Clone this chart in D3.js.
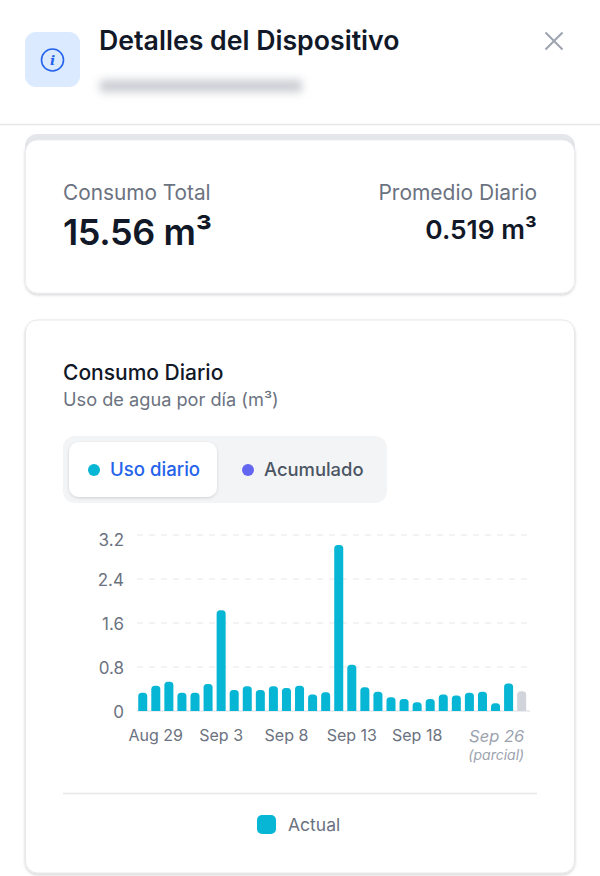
<!DOCTYPE html>
<html lang="es">
<head>
<meta charset="utf-8">
<script src="https://cdn.jsdelivr.net/npm/d3@7"></script>
<style>
  html, body { margin: 0; padding: 0; background: #fff; }
  svg { display: block; font-family: Inter, "Noto Sans", sans-serif; }
</style>
</head>
<body>
<svg id="chart" width="600" height="876"></svg>
<script>
// Data
const days = [
  "Aug 28", "Aug 29", "Aug 30", "Aug 31", "Sep 1", "Sep 2", "Sep 3", "Sep 4", "Sep 5", "Sep 6",
  "Sep 7", "Sep 8", "Sep 9", "Sep 10", "Sep 11", "Sep 12", "Sep 13", "Sep 14", "Sep 15", "Sep 16",
  "Sep 17", "Sep 18", "Sep 19", "Sep 20", "Sep 21", "Sep 22", "Sep 23", "Sep 24", "Sep 25", "Sep 26",
];
const dailyUse = [
  0.33, 0.46, 0.53, 0.33, 0.33, 0.49, 1.83, 0.38, 0.45, 0.38,
  0.45, 0.42, 0.46, 0.30, 0.34, 3.02, 0.84, 0.43, 0.35, 0.25,
  0.22, 0.16, 0.22, 0.30, 0.28, 0.33, 0.35, 0.14, 0.50, 0.36,
];
const yTicks = [0, 0.8, 1.6, 2.4, 3.2];
const xTicks = ["Aug 29", "Sep 3", "Sep 8", "Sep 13", "Sep 18"];
const partialDay = "Sep 26";

const CYAN = "#06b6d4";
const INK = "#111827";
const MUTED = "#6b7280";

const svg = d3.select("#chart");

// Shadow + blur filters
const defs = svg.append("defs");
const shadow = defs.append("filter").attr("id", "cardShadow")
  .attr("x", "-5%").attr("y", "-5%").attr("width", "110%").attr("height", "112%");
shadow.append("feDropShadow").attr("dx", 0).attr("dy", 1.5).attr("stdDeviation", 1.5)
  .attr("flood-color", "#000").attr("flood-opacity", 0.18);
const tabShadow = defs.append("filter").attr("id", "tabShadow")
  .attr("x", "-10%").attr("y", "-15%").attr("width", "120%").attr("height", "135%");
tabShadow.append("feDropShadow").attr("dx", 0).attr("dy", 1).attr("stdDeviation", 1.5)
  .attr("flood-color", "#000").attr("flood-opacity", 0.15);
defs.append("filter").attr("id", "blur")
  .attr("x", "-10%").attr("y", "-100%").attr("width", "120%").attr("height", "300%")
  .append("feGaussianBlur").attr("stdDeviation", 4.5);

function label(parent, x, y, text, size, color, weight, anchor) {
  return parent.append("text")
    .attr("x", x).attr("y", y)
    .attr("font-size", size)
    .attr("font-weight", weight || 400)
    .attr("fill", color)
    .attr("text-anchor", anchor || "start")
    .text(text);
}

// Header
const header = svg.append("g");
header.append("rect").attr("x", 25).attr("y", 32).attr("width", 55).attr("height", 55)
  .attr("rx", 11).attr("fill", "#dbeafe");
header.append("circle").attr("cx", 52.5).attr("cy", 60).attr("r", 11)
  .attr("fill", "none").attr("stroke", "#2563eb").attr("stroke-width", 1.6);
header.append("text").attr("x", 52.5).attr("y", 65).attr("text-anchor", "middle")
  .attr("font-family", "DejaVu Serif").attr("font-style", "italic").attr("font-weight", 700)
  .attr("font-size", 13.5).attr("fill", "#2563eb").text("i");
label(header, 99, 50, "Detalles del Dispositivo", 26.7, INK, 600);
// blurred out serial number
header.append("rect").attr("x", 100).attr("y", 80).attr("width", 202).attr("height", 12)
  .attr("fill", "#c9ccd1").attr("filter", "url(#blur)");
header.append("path").attr("d", "M545.5,32.5L562.5,49.5M562.5,32.5L545.5,49.5")
  .attr("stroke", "#9ca3af").attr("stroke-width", 2).attr("fill", "none");
header.append("line").attr("x1", 0).attr("x2", 600).attr("y1", 124.5).attr("y2", 124.5)
  .attr("stroke", "#e5e7eb").attr("stroke-width", 1.5);

// Summary card
svg.append("rect").attr("x", 25).attr("y", 134).attr("width", 550).attr("height", 30)
  .attr("rx", 12).attr("fill", "#e5e7eb");
svg.append("rect").attr("x", 25.5).attr("y", 140).attr("width", 549).attr("height", 153)
  .attr("rx", 12).attr("fill", "#fff").attr("stroke", "#eceef1").attr("filter", "url(#cardShadow)");
label(svg, 63, 200, "Consumo Total", 20.8, MUTED);
label(svg, 63, 245, "15.56 m³", 36, INK, 600).attr("letter-spacing", -0.4);
label(svg, 537, 200, "Promedio Diario", 21, MUTED, 400, "end");
label(svg, 537, 239, "0.519 m³", 26.3, INK, 600, "end");

// Chart card
svg.append("rect").attr("x", 25.5).attr("y", 320).attr("width", 549).attr("height", 553)
  .attr("rx", 12).attr("fill", "#fff").attr("stroke", "#e5e7eb").attr("filter", "url(#cardShadow)");
label(svg, 63, 380, "Consumo Diario", 21, INK, 500);
label(svg, 63, 406, "Uso de agua por día (m³)", 18.2, MUTED);

// Toggle
svg.append("rect").attr("x", 63).attr("y", 436).attr("width", 324).attr("height", 67)
  .attr("rx", 12).attr("fill", "#f3f4f6");
svg.append("rect").attr("x", 69).attr("y", 442).attr("width", 148).attr("height", 55)
  .attr("rx", 10).attr("fill", "#fff").attr("filter", "url(#tabShadow)");
svg.append("circle").attr("cx", 94).attr("cy", 470).attr("r", 6).attr("fill", CYAN);
label(svg, 110, 476, "Uso diario", 18.6, "#2563eb", 500);
svg.append("circle").attr("cx", 248).attr("cy", 470).attr("r", 6).attr("fill", "#6366f1");
label(svg, 264, 476, "Acumulado", 18.4, "#4b5563", 500);

// Scales
const x = d3.scaleBand().domain(days).range([136.2, 528.2]).paddingInner(0.31).paddingOuter(0.155);
const y = d3.scaleLinear().domain([0, 3.2]).range([711, 535]);

// Gridlines
svg.append("g").selectAll("line")
  .data(yTicks.filter((d) => d > 0))
  .join("line")
  .attr("x1", 137).attr("x2", 530)
  .attr("y1", (d) => y(d)).attr("y2", (d) => y(d))
  .attr("stroke", "#e5e7eb").attr("stroke-width", 1.2).attr("stroke-dasharray", "6 6");

// Baseline
svg.append("line").attr("x1", 137).attr("x2", 530).attr("y1", y(0)).attr("y2", y(0))
  .attr("stroke", "#e5e7eb").attr("stroke-width", 1.5);

// Y axis, top label sits a little below its gridline
const yAxis = svg.append("g").attr("transform", "translate(124,0)")
  .call(d3.axisLeft(y).tickValues(yTicks).tickSize(0).tickPadding(0).tickFormat((d) => d === 0 ? "0" : d3.format(".1f")(d)));
yAxis.select(".domain").remove();
yAxis.selectAll("text")
  .attr("font-size", 17).attr("font-family", "Inter").attr("fill", MUTED)
  .attr("y", (d) => d === 3.2 ? 5.5 : 1);

// Bars, rounded on top only
function barPath(day, value) {
  const r = 3.5, left = x(day), right = left + x.bandwidth(), top = y(value), base = y(0);
  return `M${left},${base}V${top + r}Q${left},${top} ${left + r},${top}H${right - r}Q${right},${top} ${right},${top + r}V${base}Z`;
}
svg.append("g").selectAll("path")
  .data(days)
  .join("path")
  .attr("d", (d, i) => barPath(d, dailyUse[i]))
  .attr("fill", (d) => d === partialDay ? "#d1d5db" : CYAN);

// X axis
const xAxis = svg.append("g").attr("transform", "translate(0,711)")
  .call(d3.axisBottom(x).tickValues(xTicks).tickSize(0).tickPadding(19));
xAxis.select(".domain").remove();
xAxis.selectAll("text").attr("font-size", 16).attr("font-family", "Inter").attr("fill", MUTED);

// Partial day label is right aligned to its bar
const partialX = x(partialDay) + x.bandwidth() - 2;
label(svg, partialX, 742, partialDay, 16.5, "#9ca3af", 400, "end").attr("font-style", "italic");
label(svg, partialX, 760, "(parcial)", 14, "#9ca3af", 400, "end").attr("font-style", "italic");

// Legend
svg.append("line").attr("x1", 63).attr("x2", 537).attr("y1", 793.5).attr("y2", 793.5)
  .attr("stroke", "#e5e7eb").attr("stroke-width", 1.5);
svg.append("rect").attr("x", 257).attr("y", 815).attr("width", 19).attr("height", 19)
  .attr("rx", 5).attr("fill", CYAN);
label(svg, 288, 831, "Actual", 17.5, MUTED);
</script>
</body>
</html>
